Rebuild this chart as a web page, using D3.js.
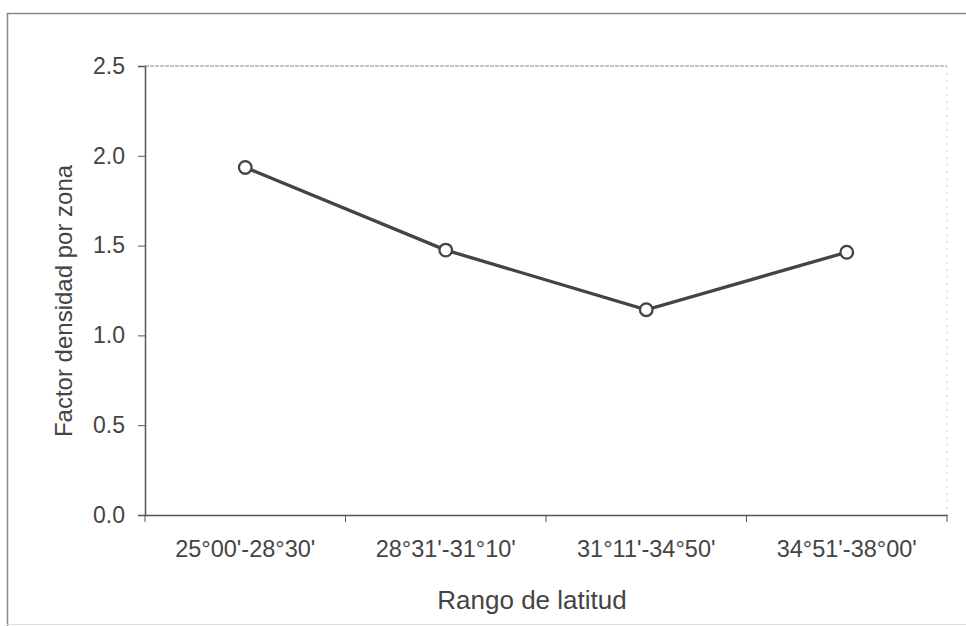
<!DOCTYPE html>
<html><head><meta charset="utf-8">
<script src="https://cdn.jsdelivr.net/npm/d3@7"></script>
<style>body{margin:0;background:#fff}svg{display:block}text{font-family:"Liberation Sans",Arial,sans-serif;fill:#444}</style>
</head><body><svg id="c" width="966" height="626"></svg>
<script>
const categories = ["25°00'-28°30'", "28°31'-31°10'", "31°11'-34°50'", "34°51'-38°00'"];
const values = [1.935, 1.475, 1.143, 1.463];
const yTicks = [0, 0.5, 1.0, 1.5, 2.0, 2.5];
const xTitle = "Rango de latitud";
const yTitle = "Factor densidad por zona";

const svg = d3.select("#c");
const m = {l:145, r:947, t:66, b:515};
const x = d3.scaleBand().domain(categories).range([m.l, m.r]);
const y = d3.scaleLinear().domain([0, 2.5]).range([m.b, m.t]);
const FONT = "Liberation Sans, Arial, sans-serif";

// outer frame
svg.append("path").attr("d","M7.5,626 L7.5,13.5 L966,13.5").attr("fill","none").attr("stroke","#888").attr("stroke-width",1.5);
svg.append("line").attr("x1",7).attr("x2",966).attr("y1",624.5).attr("y2",624.5).attr("stroke","#ddd").attr("stroke-width",1);

// plot border top/right faint
svg.append("line").attr("x1",m.l).attr("x2",m.r).attr("y1",m.t).attr("y2",m.t).attr("stroke","#888").attr("stroke-width",1).attr("stroke-dasharray","4,1");
svg.append("line").attr("x1",m.r).attr("x2",m.r).attr("y1",m.t).attr("y2",m.b).attr("stroke","#ccc").attr("stroke-width",1).attr("stroke-dasharray","2,5");

// y axis
const ya = svg.append("g").attr("transform",`translate(${m.l},0)`)
  .call(d3.axisLeft(y).tickValues(yTicks).tickFormat(d3.format(".1f")).tickSize(7).tickPadding(13));
ya.select(".domain").attr("stroke","#555").attr("stroke-width",1.5);
ya.selectAll(".tick line").attr("stroke","#555");
ya.selectAll("text").attr("font-size",23).attr("fill","#444").style("font-family",FONT);

// x axis
const xa = svg.append("g").attr("transform",`translate(0,${m.b})`)
  .call(d3.axisBottom(x).tickSize(0).tickPadding(25));
xa.select(".domain").attr("stroke","#555").attr("stroke-width",1.5);
xa.selectAll("text").attr("font-size",23.5).attr("fill","#444").style("font-family",FONT);
const edges = categories.map(c => x(c)).concat([x.range()[1]]);
svg.append("g").selectAll("line").data(edges).join("line")
  .attr("x1",d=>d).attr("x2",d=>d).attr("y1",m.b).attr("y2",m.b+7).attr("stroke","#555");

// line
const line = d3.line().x((d,i)=>x(categories[i])+x.bandwidth()/2).y(d=>y(d));
svg.append("path").datum(values).attr("d",line).attr("fill","none").attr("stroke","#444").attr("stroke-width",3.3);
svg.append("g").selectAll("circle").data(values).join("circle")
  .attr("cx",(d,i)=>x(categories[i])+x.bandwidth()/2).attr("cy",d=>y(d)).attr("r",6.3)
  .attr("fill","#fff").attr("stroke","#444").attr("stroke-width",2.3);

// titles
svg.append("text").attr("x",532).attr("y",609).attr("text-anchor","middle").attr("font-size",26).text(xTitle);
svg.append("text").attr("transform","translate(72,301) rotate(-90)").attr("text-anchor","middle").attr("font-size",24).text(yTitle);
</script></body></html>
